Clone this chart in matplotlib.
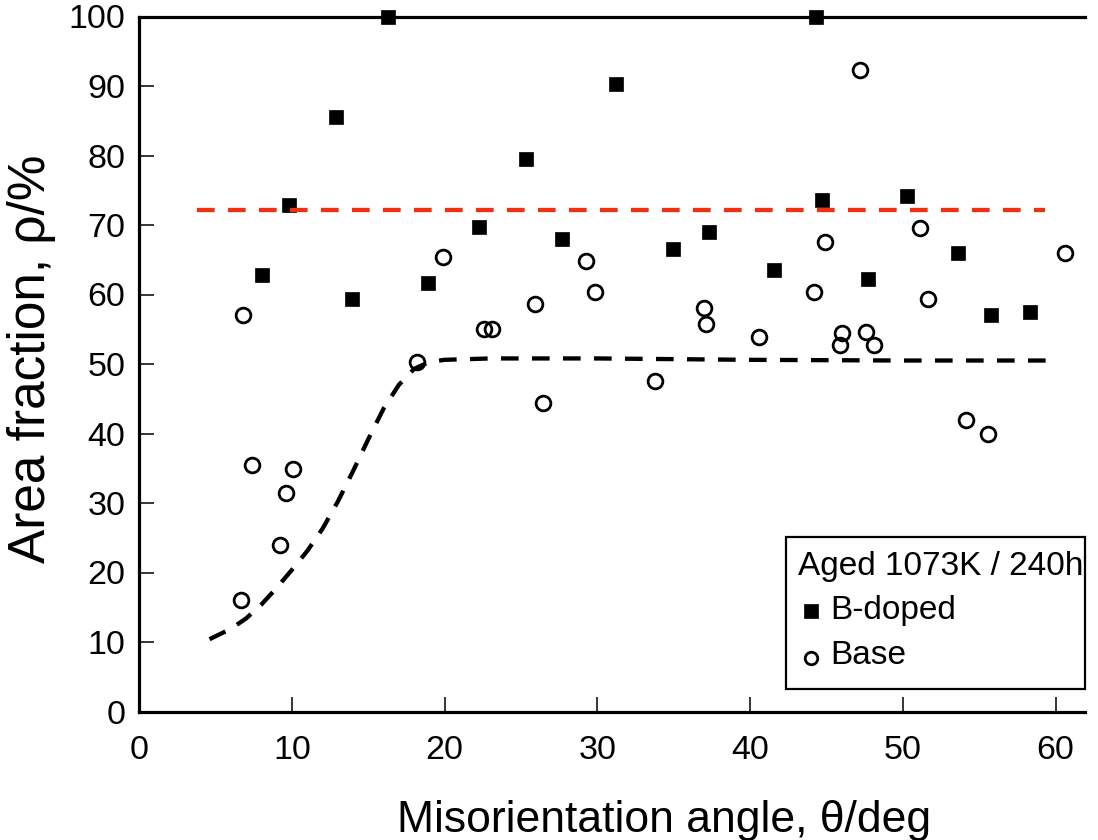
import matplotlib
matplotlib.use("Agg")
import matplotlib.pyplot as plt
from matplotlib.patches import Rectangle
from matplotlib.lines import Line2D

plt.rcParams['font.family'] = ['Liberation Sans', 'DejaVu Sans']

# B-doped (filled squares)
bdoped_x = [8.04, 9.82, 12.90, 13.91, 16.31, 18.91, 22.25, 25.32, 27.68, 31.2,
            34.95, 37.3, 41.58, 44.31, 44.71, 47.72, 50.3, 53.6, 55.78, 58.31]
bdoped_y = [62.8, 72.9, 85.5, 59.4, 100.0, 61.6, 69.7, 79.5, 68.0, 90.3,
            66.5, 69.0, 63.5, 100.0, 73.6, 62.3, 74.2, 65.9, 57.1, 57.5]

# Base (open circles)
base_x = [6.64, 6.77, 7.38, 9.21, 9.59, 10.07, 18.19, 19.91, 22.6, 23.1,
          25.91, 26.42, 29.23, 29.86, 33.75, 37.0, 37.11, 40.58, 44.17, 44.9,
          45.89, 46.04, 47.2, 47.57, 48.13, 51.13, 51.63, 54.12, 55.56, 60.6]
base_y = [16.0, 57.0, 35.5, 24.0, 31.5, 34.9, 50.3, 65.4, 55.0, 55.0,
          58.6, 44.4, 64.8, 60.3, 47.6, 58.0, 55.7, 53.9, 60.4, 67.5,
          52.7, 54.5, 92.3, 54.6, 52.7, 69.5, 59.4, 41.9, 39.9, 66.0]

# Dashed trend curve for Base
base_curve_x = [4.6, 6.0, 7.0, 8.0, 9.0, 10.0, 11.0, 12.0, 13.0, 14.0, 15.0,
                16.0, 17.0, 18.0, 19.0, 20.0, 23.0, 30.0, 40.0, 50.0, 60.2]
base_curve_y = [10.4, 11.9, 13.4, 15.4, 17.8, 20.4, 23.1, 26.3, 30.2, 34.6, 39.2,
                43.6, 47.0, 49.3, 50.3, 50.6, 50.8, 50.8, 50.6, 50.5, 50.5]

# Red dashed level for B-doped
bdoped_level_x = [3.8, 59.3]
bdoped_level_y = [72.1, 72.1]

xticks = [0, 10, 20, 30, 40, 50, 60]
yticks = [0, 10, 20, 30, 40, 50, 60, 70, 80, 90, 100]

legend_title = 'Aged 1073K / 240h'
legend_labels = ['B-doped', 'Base']

W, H = 1098, 840
fig = plt.figure(figsize=(W / 100, H / 100), dpi=100)
x0, x1 = 139.3, 1085.0
ytop, ybot = 16.5, 711.5
ax = fig.add_axes([x0 / W, (H - ybot) / H, (x1 - x0) / W, (ybot - ytop) / H])

sq_style = dict(ls='none', marker='s', mfc='black', mec='black', mew=0.5)
ci_style = dict(ls='none', marker='o', mfc='none', mec='black', mew=2.0)

ax.plot(bdoped_x, bdoped_y, ms=10.6, clip_on=False, zorder=3, **sq_style)
ax.plot(base_x, base_y, ms=10.6, clip_on=False, zorder=3, **ci_style)

ax.plot(base_curve_x, base_curve_y, color='black', lw=3.1, dashes=(4.1, 3.1),
        zorder=4)
ax.plot(bdoped_level_x, bdoped_level_y, color='#F0300F', lw=3.1,
        dashes=(4.1, 3.1), zorder=4)

ax.set_xlim(0, (x1 - x0) / 15.27)
ax.set_ylim(0, 100)
ax.set_xticks(xticks)
ax.set_yticks(yticks)

ax.spines['right'].set_visible(False)
for s in ['top', 'left', 'bottom']:
    ax.spines[s].set_linewidth(2.3)
ax.tick_params(direction='in', length=11, width=1.1, labelsize=24.5,
               colors='black')
ax.tick_params(axis='x', pad=17)
ax.tick_params(axis='y', pad=10)

ax.set_xlabel('Misorientation angle, θ/deg', fontsize=32)
ax.set_ylabel('Area fraction, ρ/%', fontsize=37)
ax.xaxis.set_label_coords((664 - x0) / (x1 - x0), (ybot - 800) / (ybot - ytop))
ax.yaxis.set_label_coords((56 - x0) / (x1 - x0), (ybot - 359) / (ybot - ytop))

# Legend box (drawn in figure pixel positions)
def fx(px):
    return px / W

def fy(py):
    return (H - py) / H

fig.add_artist(Rectangle((fx(786), fy(689)), fx(1085) - fx(786),
                         fy(537) - fy(689), transform=fig.transFigure,
                         facecolor='white', edgecolor='black', lw=1.6,
                         zorder=5))
fig.text(fx(798), fy(567), legend_title, fontsize=24, va='center',
         ha='left', zorder=6)
fig.text(fx(830), fy(611), legend_labels[0], fontsize=24, va='center',
         ha='left', zorder=6)
fig.text(fx(830), fy(655), legend_labels[1], fontsize=24, va='center',
         ha='left', zorder=6)
fig.add_artist(Line2D([fx(811)], [fy(611)], transform=fig.transFigure,
                      ms=10.6, zorder=6, **sq_style))
fig.add_artist(Line2D([fx(811)], [fy(658)], transform=fig.transFigure,
                      ms=9.0, zorder=6, **ci_style))

fig.savefig('out.png', dpi=100, facecolor='white')
